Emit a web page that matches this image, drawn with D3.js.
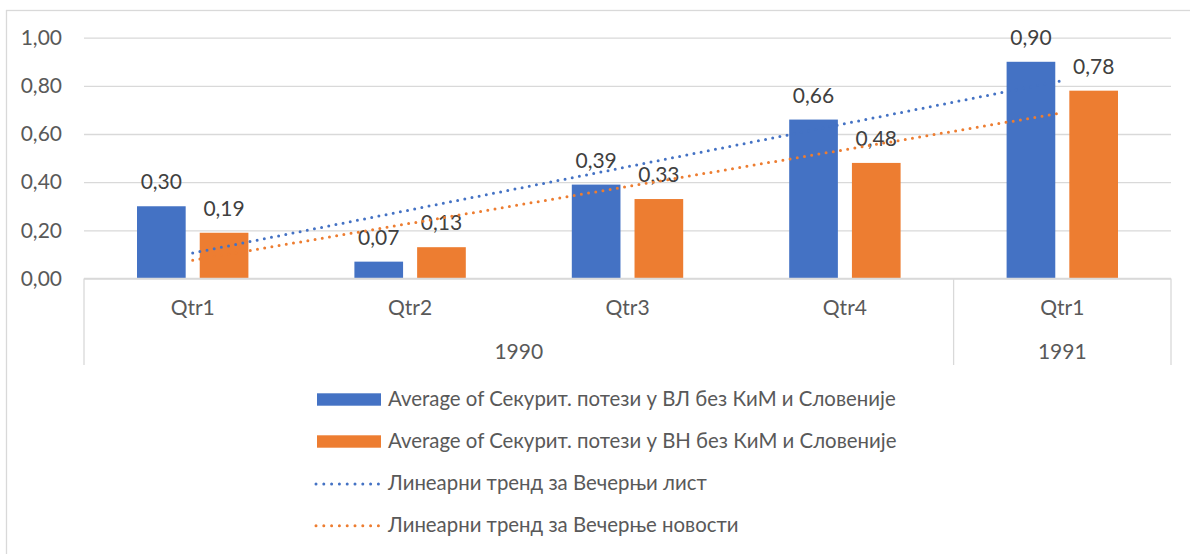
<!DOCTYPE html>
<html>
<head>
<meta charset="utf-8">
<script src="https://cdn.jsdelivr.net/npm/d3@7"></script>
<style>
  body { margin: 0; background: #fff; }
  svg text { font-family: Lato, Roboto, sans-serif; }
</style>
</head>
<body>
<div id="chart"></div>
<script>
// DATA
var quarters = ["Qtr1", "Qtr2", "Qtr3", "Qtr4", "Qtr1"];
var years = ["1990", "1990", "1990", "1990", "1991"];
var vlValues = [0.30, 0.07, 0.39, 0.66, 0.90];
var vnValues = [0.19, 0.13, 0.33, 0.48, 0.78];
var yTicks = [0, 0.2, 0.4, 0.6, 0.8, 1.0];
var seriesNames = [
  "Average of Секурит. потези у ВЛ без КиМ и Словеније",
  "Average of Секурит. потези у ВН без КиМ и Словеније"
];
var trendNames = [
  "Линеарни тренд за Вечерњи лист",
  "Линеарни тренд за Вечерње новости"
];
var colors = ["#4472C4", "#ED7D31"];

const dims = {
  width: 1190,
  height: 554,
  left: 84,
  right: 1171,
  top: 37.7,
  bottom: 278.5,
  font: '21px'
};

const svg = d3.select('#chart').append('svg')
  .attr('width', dims.width)
  .attr('height', dims.height);

// outer chart frame (runs off the picture on right and bottom)
svg.append('rect')
  .attr('x', 6.5).attr('y', 10.5)
  .attr('width', dims.width).attr('height', dims.height)
  .attr('fill', '#fff')
  .attr('stroke', '#d9d9d9')
  .attr('stroke-width', 1.3);

const idx = d3.range(quarters.length);

const x = d3.scaleBand()
  .domain(idx)
  .range([dims.left, dims.right]);

const x1 = d3.scaleBand()
  .domain([0, 1])
  .range([53, x.bandwidth() - 53])
  .paddingInner(0.224);

const y = d3.scaleLinear()
  .domain([0, 1])
  .range([dims.bottom, dims.top]);

const fmt = (v) => d3.format('.2f')(v).replace('.', ',');

// GRIDLINES + Y AXIS
const yAxis = d3.axisLeft(y)
  .tickValues(yTicks)
  .tickSize(-(dims.right - dims.left))
  .tickPadding(22)
  .tickFormat(fmt);

const yg = svg.append('g')
  .attr('transform', `translate(${dims.left},0)`)
  .call(yAxis);
yg.select('.domain').remove();
yg.selectAll('.tick line')
  .attr('stroke', '#d9d9d9')
  .attr('stroke-width', 1.3);
yg.selectAll('.tick text')
  .attr('fill', '#595959')
  .style('font-size', dims.font);

// BARS
const groups = svg.append('g').selectAll('g')
  .data(idx)
  .enter().append('g')
  .attr('transform', (i) => `translate(${x(i)},0)`);

groups.selectAll('rect')
  .data((i) => [vlValues[i], vnValues[i]])
  .enter().append('rect')
  .attr('x', (d, s) => x1(s))
  .attr('width', x1.bandwidth())
  .attr('y', (d) => y(d))
  .attr('height', (d) => y(0) - y(d))
  .attr('fill', (d, s) => colors[s]);

// DATA LABELS
groups.selectAll('text.lbl')
  .data((i) => [vlValues[i], vnValues[i]])
  .enter().append('text')
  .attr('class', 'lbl')
  .attr('x', (d, s) => x1(s) + x1.bandwidth() / 2)
  .attr('y', (d) => y(d) - 17)
  .attr('text-anchor', 'middle')
  .attr('fill', '#404040')
  .style('font-size', dims.font)
  .text(fmt);

// CATEGORY AXIS (two levels)
const axisG = svg.append('g');
axisG.append('line')
  .attr('x1', dims.left).attr('x2', dims.right)
  .attr('y1', y(0)).attr('y2', y(0))
  .attr('stroke', '#d9d9d9').attr('stroke-width', 1.3);

var yearGroups = [];
idx.forEach(function(i) {
  var last = yearGroups[yearGroups.length - 1];
  if (last && last.year === years[i]) {
    last.end = i;
  } else {
    yearGroups.push({ year: years[i], start: i, end: i });
  }
});

var seps = [dims.left].concat(yearGroups.map((g) => x(g.end) + x.bandwidth()));
axisG.selectAll('line.sep')
  .data(seps)
  .enter().append('line')
  .attr('class', 'sep')
  .attr('x1', (d) => d).attr('x2', (d) => d)
  .attr('y1', y(0)).attr('y2', 365)
  .attr('stroke', '#d9d9d9').attr('stroke-width', 1.3);

axisG.selectAll('text.qtr')
  .data(idx)
  .enter().append('text')
  .attr('class', 'qtr')
  .attr('x', (i) => x(i) + x.bandwidth() / 2)
  .attr('y', 314.5)
  .attr('text-anchor', 'middle')
  .attr('fill', '#595959')
  .style('font-size', dims.font)
  .text((i) => quarters[i]);

axisG.selectAll('text.year')
  .data(yearGroups)
  .enter().append('text')
  .attr('class', 'year')
  .attr('x', (g) => (x(g.start) + x(g.end) + x.bandwidth()) / 2)
  .attr('y', 359)
  .attr('text-anchor', 'middle')
  .attr('fill', '#595959')
  .style('font-size', dims.font)
  .text((g) => g.year);

// LINEAR TRENDS (least squares over category index 1..n)
function linearFit(values) {
  var xs = values.map((v, i) => i + 1);
  var mx = d3.mean(xs), my = d3.mean(values);
  var num = d3.sum(values, (v, i) => (xs[i] - mx) * (v - my));
  var den = d3.sum(xs, (xv) => (xv - mx) * (xv - mx));
  var slope = num / den;
  return function(xv) { return my + slope * (xv - mx); };
}

[vlValues, vnValues].forEach(function(vals, s) {
  var fit = linearFit(vals);
  var first = 0, last = vals.length - 1;
  svg.append('line')
    .attr('x1', x(first) + x.bandwidth() / 2)
    .attr('y1', y(fit(first + 1)))
    .attr('x2', x(last) + x.bandwidth() / 2)
    .attr('y2', y(fit(last + 1)))
    .attr('stroke', colors[s])
    .attr('stroke-width', 3)
    .attr('stroke-linecap', 'round')
    .attr('stroke-dasharray', '0 7.3');
});

// LEGEND
const legendRows = [399.5, 441.5, 484, 525.7];
const legend = svg.append('g');

seriesNames.forEach(function(name, s) {
  legend.append('rect')
    .attr('x', 317).attr('y', legendRows[s] - 6.2)
    .attr('width', 64).attr('height', 12.4)
    .attr('fill', colors[s]);
});
trendNames.forEach(function(name, s) {
  legend.append('line')
    .attr('x1', 316).attr('x2', 379)
    .attr('y1', legendRows[s + 2]).attr('y2', legendRows[s + 2])
    .attr('stroke', colors[s])
    .attr('stroke-width', 3)
    .attr('stroke-linecap', 'round')
    .attr('stroke-dasharray', '0 7.8');
});
legend.selectAll('text')
  .data(seriesNames.concat(trendNames))
  .enter().append('text')
  .attr('x', 388)
  .attr('y', (d, i) => legendRows[i] + 6)
  .attr('fill', '#595959')
  .style('font-size', '20.4px')
  .text((d) => d);
</script>
</body>
</html>
